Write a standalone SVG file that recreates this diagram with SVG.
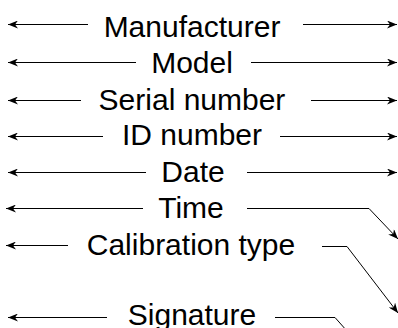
<svg xmlns="http://www.w3.org/2000/svg" width="398" height="328" viewBox="0 0 398 328">
<style>
.lbl{font-family:"Liberation Sans",Arial,sans-serif;font-size:30px;fill:#000;text-anchor:middle}
.c{fill:none;stroke:#000;stroke-width:1;marker-end:url(#ah)}
.n{fill:none;stroke:#000;stroke-width:1}
</style>
<defs>
<marker id="ah" viewBox="0 0 10 8" refX="10" refY="4" markerWidth="10" markerHeight="8" markerUnits="userSpaceOnUse" orient="auto">
<path d="M0,0 L10,4 L0,8 L3,4 z" fill="#000"/>
</marker>
</defs>
<g id="connectors">
<line class="c" x1="88" y1="24.5" x2="8" y2="24.5"/>
<line class="c" x1="303" y1="24.5" x2="397" y2="24.5"/>
<line class="c" x1="136" y1="62.5" x2="8" y2="62.5"/>
<line class="c" x1="251" y1="62.5" x2="397" y2="62.5"/>
<line class="c" x1="81" y1="100.5" x2="8" y2="100.5"/>
<line class="c" x1="311" y1="100.5" x2="397" y2="100.5"/>
<line class="c" x1="103" y1="136.5" x2="8" y2="136.5"/>
<line class="c" x1="280" y1="136.5" x2="397" y2="136.5"/>
<line class="c" x1="146" y1="172.5" x2="8" y2="172.5"/>
<line class="c" x1="247" y1="172.5" x2="397" y2="172.5"/>
<line class="c" x1="143" y1="208.5" x2="6" y2="208.5"/>
<polyline class="c" points="247,208.5 369,208.5 398,239"/>
<line class="c" x1="68" y1="245.5" x2="6" y2="245.5"/>
<polyline class="c" points="322,246.5 347,246.5 398,313"/>
<line class="c" x1="107" y1="317.5" x2="8" y2="317.5"/>
<polyline class="n" points="275,317.5 335,317.5 347,331"/>
</g>
<g id="manufacturer"><text class="lbl" x="192" y="36.7">Manufacturer</text></g>
<g id="model"><text class="lbl" x="192" y="73.3">Model</text></g>
<g id="serial-number"><text class="lbl" x="192" y="109.5">Serial number</text></g>
<g id="id-number"><text class="lbl" x="192" y="145">ID number</text></g>
<g id="date"><text class="lbl" x="193" y="181.7">Date</text></g>
<g id="time"><text class="lbl" x="191" y="217.5">Time</text></g>
<g id="calibration-type"><text class="lbl" x="191" y="254.7">Calibration type</text></g>
<g id="signature"><text class="lbl" x="192" y="325">Signature</text></g>
</svg>
